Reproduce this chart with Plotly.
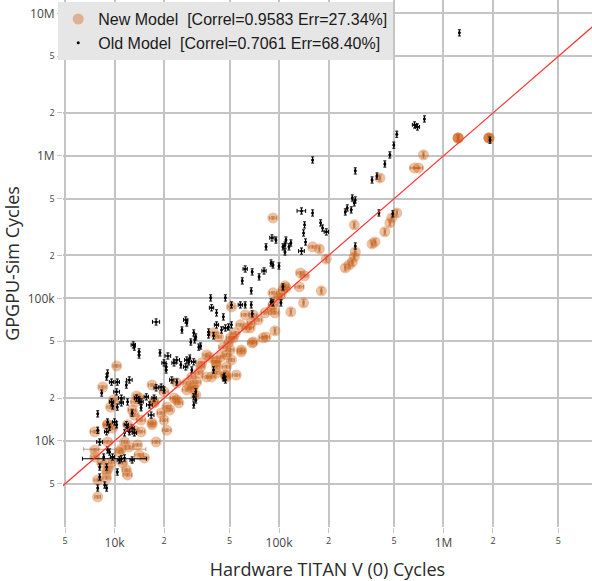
import math
import plotly.graph_objects as go

# ---- New model: hardware cycles vs simulated cycles ----
new_x = [9460, 13400, 17400, 21700, 23900, 9070, 9730, 7580, 12000, 13200,
         14500, 16900, 20800, 9070, 11500, 13800, 17900, 7580, 11000, 10700,
         12300, 14100, 15200, 8350, 9590, 11200, 11800, 12000, 8950, 9200,
         7900, 8950, 7900, 7580, 10300, 8470, 9860, 14100, 13600, 12800,
         14500, 13200, 16900, 17400, 19200, 20000, 16900, 23000, 24600, 20000,
         20800, 27500, 29500, 31200, 33400, 32500, 36300, 38900, 36300, 37800,
         33900, 41700, 50600, 52800, 47900, 47200, 59000, 68700, 44100, 51400,
         62300, 69700, 74700, 91900, 94500, 58200, 66800, 94500, 83400, 69700,
         40000, 42900, 50600, 54300, 49300, 45900, 59000, 47900, 51400, 47900,
         41100, 41700, 29500, 31600, 27500, 23900, 55000, 41700, 91900, 756000,
         667000, 705000, 411000, 520000, 485000, 472000, 440000, 287000, 383000, 368000,
         291000, 287000, 279000, 267000, 253000, 160000, 176000, 194000, 135000, 143000,
         133000, 181000, 141000, 118000, 91900, 105700, 102800, 110200, 98500, 82200,
         63200, 80000, 1228000, 1228000, 1890000, 1890000, 89400, 108700, 67800, 30300,
         1228000, 1890000, 47200, 9070]
new_y = [17300, 18800, 18800, 16500, 19400, 13000, 12300, 11600, 13000, 11900,
         11600, 13400, 11900, 9840, 9840, 9370, 9840, 8650, 8750, 8370,
         9070, 7980, 7600, 7010, 7120, 7010, 6260, 5770, 6060, 6470,
         5320, 5500, 4050, 7720, 33600, 23900, 19400, 20000, 20700, 16500,
         14000, 15200, 24700, 18500, 15700, 14000, 13000, 20000, 18500, 22100,
         17300, 25500, 23600, 21000, 33100, 30000, 28100, 28100, 40100, 38800,
         35300, 35900, 43500, 52900, 28100, 29000, 42200, 48700, 38800, 87300,
         76600, 76600, 70700, 90100, 79200, 65200, 62100, 59200, 53700, 49500,
         57300, 53700, 52900, 57300, 48700, 45600, 43500, 40100, 37000, 33100,
         35900, 33100, 28100, 25900, 22800, 25500, 29000, 30000, 367000, 1016000,
         823000, 823000, 700000, 398000, 367000, 339000, 293000, 328000, 249000, 241000,
         212000, 195500, 180000, 172000, 164000, 230000, 222500, 189000, 151000, 144000,
         120500, 113000, 93100, 80500, 109400, 114800, 105900, 118600, 100900, 79200,
         62100, 52900, 1337000, 1337000, 1337000, 1337000, 83100, 122500, 67300, 23900,
         1337000, 1337000, 28500, 13000]
# spread of repeated hardware / simulator runs, in percent
new_xerr_pct = [5, 6, 5, 4, 4, 5, 5, 6, 5, 5,
                5, 5, 6, 5, 4, 5, 5, 5, 41, 5,
                5, 6, 5, 5, 4, 5, 5, 6, 5, 5,
                5, 5, 4, 5, 5, 5, 5, 5, 4, 5,
                6, 5, 5, 5, 5, 5, 4, 5, 5, 6,
                5, 5, 5, 4, 5, 5, 6, 5, 5, 5,
                4, 5, 5, 5, 5, 5, 5, 6, 5, 5,
                5, 5, 5, 6, 5, 5, 5, 1, 5, 5,
                5, 4, 5, 5, 5, 6, 5, 5, 4, 5,
                5, 5, 5, 5, 6, 5, 5, 5, 5, 1,
                6, 6, 1, 1, 1, 1, 1, 1, 1, 1,
                1, 1, 1, 1, 1, 5, 1, 1, 5, 5,
                6, 1, 1, 1, 5, 6, 5, 5, 5, 5,
                5, 5, 1, 1, 1, 1, 5, 5, 5, 5,
                1, 1, 5, 5]
new_yerr_pct = [2, 2, 2, 2, 2, 2, 2, 2, 2, 2,
                2, 2, 2, 2, 2, 2, 2, 2, 2, 2,
                2, 2, 2, 2, 2, 2, 2, 2, 2, 2,
                2, 2, 2, 2, 2, 2, 2, 2, 2, 2,
                2, 2, 2, 2, 2, 2, 2, 2, 2, 2,
                2, 2, 2, 2, 2, 2, 2, 2, 2, 2,
                2, 2, 2, 2, 2, 2, 2, 2, 2, 2,
                2, 2, 2, 2, 2, 2, 2, 5, 2, 2,
                2, 2, 2, 2, 2, 2, 2, 2, 2, 2,
                2, 2, 2, 2, 2, 2, 2, 2, 2, 5,
                1, 1, 5, 5, 5, 5, 5, 5, 5, 5,
                5, 5, 5, 5, 5, 2, 5, 5, 2, 2,
                2, 5, 5, 5, 2, 2, 2, 2, 2, 2,
                2, 2, 5, 5, 5, 5, 2, 2, 2, 2,
                5, 5, 2, 2]

# ---- Old model ----
old_x = [7900, 9590, 9730, 11000, 12000, 14500, 14500, 16700, 12800, 10000,
         10300, 9070, 9330, 7900, 8950, 11800, 12000, 12300, 12800, 11500,
         13200, 8120, 9070, 9330, 8590, 9730, 11500, 10700, 12800, 11000,
         8120, 8950, 10400, 8120, 8710, 8950, 7900, 17900, 25700, 13000,
         13200, 14100, 14100, 18900, 21100, 23900, 20000, 20600, 20600, 23000,
         9070, 8950, 9590, 10400, 12300, 11800, 10300, 8350, 11000, 22300,
         23900, 17900, 19200, 20000, 13600, 14100, 17400, 16300, 10400, 15600,
         27100, 27500, 38900, 41700, 51400, 58200, 62300, 67800, 91900, 30300,
         31200, 30700, 37300, 37300, 41700, 44700, 47200, 49300, 51400, 29100,
         32500, 27500, 28300, 30300, 25300, 27100, 29500, 31200, 30300, 31200,
         30300, 45900, 47200, 46500, 40000, 28700, 33400, 90600, 83400, 105700,
         89400, 91900, 62300, 68700, 81100, 75700, 59800, 67800, 368000, 279000,
         291000, 287000, 253000, 275000, 137000, 160000, 143000, 179000, 184000, 194000,
         141000, 145000, 110200, 108700, 118100, 115000, 108700, 137000, 100000, 405000,
         492000, 291000, 105700, 766000, 667000, 695000, 520000, 499000, 472000, 440000,
         394000, 291000, 260000, 1250000, 1920000, 160000, 95800, 68700, 45900, 40000,
         89400, 102800, 38400, 47200]
old_y = [15500, 18800, 17600, 18500, 18800, 18800, 17100, 15200, 15700, 13600,
         13000, 13600, 12500, 11900, 11600, 13000, 12300, 11600, 12300, 11400,
         11400, 9840, 8650, 8370, 7720, 7720, 7600, 7360, 7360, 7500,
         6570, 6570, 6060, 5590, 4910, 4680, 4680, 68400, 60100, 47200,
         45600, 42200, 40100, 41500, 39500, 37000, 35300, 33100, 31500, 35300,
         30000, 28100, 25900, 25900, 26800, 24700, 22100, 21700, 20000, 26800,
         25900, 23600, 23900, 22800, 20000, 19400, 20000, 17900, 17300, 20400,
         70700, 67300, 86000, 79200, 90100, 90100, 90100, 90100, 93100, 57300,
         53700, 51200, 58200, 55500, 65200, 60100, 62100, 63100, 65200, 49500,
         45600, 37000, 35900, 35900, 34200, 33100, 31500, 22100, 20400, 19400,
         17900, 27700, 26800, 28500, 31500, 38200, 46400, 266000, 230000, 230000,
         177400, 171800, 161000, 153500, 156000, 141600, 132800, 113000, 678000, 507000,
         491000, 468000, 404500, 418000, 411000, 398000, 328000, 339000, 312000, 293000,
         288000, 249000, 257000, 237000, 245000, 230000, 212000, 215000, 169000, 398000,
         392000, 233500, 120500, 1817000, 1650000, 1596000, 1420000, 1190000, 1016000, 878000,
         723000, 785000, 431500, 7300000, 1290000, 937000, 257000, 77900, 74200, 54600,
         94600, 93100, 100900, 100900]
old_xerr_pct = [0, 3, 0, 3, 0, 3, 0, 4, 0, 3,
                0, 0, 0, 0, 3, 3, 0, 0, 3, 0,
                3, 4, 0, 0, 0, 3, 0, 3, 3, 42,
                0, 0, 0, 0, 0, 0, 0, 5, 0, 3,
                0, 0, 0, 0, 4, 4, 3, 0, 0, 3,
                0, 0, 3, 3, 4, 0, 4, 0, 4, 3,
                0, 3, 3, 0, 3, 0, 3, 4, 0, 3,
                3, 0, 3, 0, 0, 3, 0, 0, 0, 0,
                0, 0, 0, 0, 3, 0, 3, 0, 0, 0,
                0, 3, 0, 3, 0, 3, 0, 0, 0, 0,
                0, 0, 0, 0, 0, 0, 0, 3, 0, 0,
                0, 0, 3, 0, 3, 0, 0, 0, 0, 0,
                0, 0, 0, 0, 6, 0, 0, 0, 0, 3,
                0, 0, 0, 0, 0, 0, 0, 4, 0, 0,
                0, 0, 0, 0, 3, 3, 0, 0, 0, 0,
                0, 0, 0, 0, 0, 0, 0, 0, 0, 0,
                0, 0, 0, 0]
old_yerr_pct = 5

# reference y = x line endpoints
ideal_line = [3000, 20000000]

new_label = "New Model\u00a0\u00a0[Correl=0.9583 Err=27.34%]"
old_label = "Old Model\u00a0\u00a0[Correl=0.7061 Err=68.40%]"


def abs_err(vals, pcts):
    return [v * p / 100.0 if p else None for v, p in zip(vals, pcts)]


fig = go.Figure()

fig.add_trace(go.Scatter(
    x=new_x, y=new_y, mode="markers", name=new_label,
    marker=dict(size=11, color="#d2691e", opacity=0.42, line=dict(width=0)),
    error_x=dict(type="data", array=abs_err(new_x, new_xerr_pct),
                 color="rgba(150,75,20,0.55)", thickness=1, width=2),
    error_y=dict(type="data", array=abs_err(new_y, new_yerr_pct),
                 color="rgba(150,75,20,0.55)", thickness=1, width=2),
))

fig.add_trace(go.Scatter(
    x=old_x, y=old_y, mode="markers", name=old_label,
    marker=dict(size=3, color="black"),
    error_x=dict(type="data", array=abs_err(old_x, old_xerr_pct),
                 color="black", thickness=1, width=2),
    error_y=dict(type="percent", value=old_yerr_pct,
                 color="black", thickness=1, width=1.5),
))

fig.add_trace(go.Scatter(
    x=ideal_line, y=ideal_line, mode="lines", showlegend=False,
    line=dict(color="rgb(255,50,50)", width=1.2), hoverinfo="skip",
))

grid = "#c4c4c4"
axis_common = dict(
    type="log", dtick="D2", showgrid=True, gridcolor=grid, gridwidth=1.5,
    ticks="outside", ticklen=5, tickcolor=grid, showline=False, zeroline=False,
    tickfont=dict(family="Open Sans", size=12, color="#444"),
)

fig.update_xaxes(
    range=[math.log10(4860), math.log10(8.0e6)],
    title=dict(text="Hardware TITAN V (0) Cycles",
               font=dict(family="Open Sans", size=18, color="#2a2a2a")),
    **axis_common,
)
fig.update_yaxes(
    range=[math.log10(2490), math.log10(1.24e7)],
    title=dict(text="GPGPU-Sim Cycles",
               font=dict(family="Open Sans", size=18, color="#2a2a2a")),
    **axis_common,
)

fig.update_layout(
    width=592, height=581,
    margin=dict(l=58, r=0, t=0, b=54, pad=0),
    plot_bgcolor="white", paper_bgcolor="white",
    showlegend=True,
    legend=dict(
        x=-0.009, y=0.996, xanchor="left", yanchor="top",
        bgcolor="#e6e6e6", borderwidth=0, tracegroupgap=0,
        font=dict(family="Liberation Sans, Arial", size=16, color="#1a1a1a"),
    ),
)

fig.write_html("out.html")
